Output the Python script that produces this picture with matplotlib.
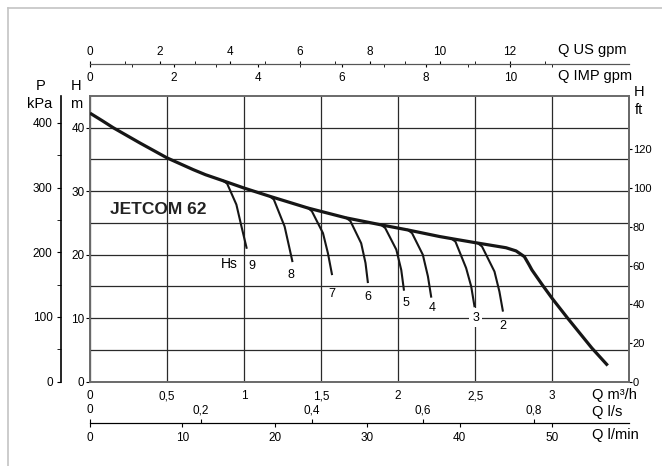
import numpy as np
import matplotlib
matplotlib.use('Agg')
import matplotlib.pyplot as plt
from matplotlib.lines import Line2D
from matplotlib.ticker import FuncFormatter

plt.rcParams['font.family'] = ['Liberation Sans', 'DejaVu Sans']

# main pump curve: Q in m3/h, H in m
curve_q = [0, 0.08, 0.151, 0.324, 0.5, 0.67, 0.75, 0.864, 1.0, 1.167, 1.415,
           1.663, 1.89, 2.063, 2.268, 2.355, 2.5, 2.7, 2.765, 2.819, 2.85,
           2.868, 2.94, 3.0, 3.10, 3.257, 3.36]
curve_h = [42.3, 41.1, 40.0, 37.6, 35.25, 33.4, 32.6, 31.65, 30.5, 29.2, 27.35,
           25.8, 24.7, 23.9, 22.87, 22.5, 21.9, 21.1, 20.6, 19.7, 18.4,
           17.6, 15.1, 13.1, 10.0, 5.3, 2.55]

# suction lift branches (Hs = 9 ... 2 m)
branch_names = ['9', '8', '7', '6', '5', '4', '3', '2']
branch_q = [[0.864, 0.89, 0.95, 0.983, 1.016],
            [1.167, 1.193, 1.263, 1.292, 1.313],
            [1.415, 1.44, 1.512, 1.544, 1.570],
            [1.663, 1.69, 1.760, 1.788, 1.803],
            [1.89, 1.916, 1.988, 2.02, 2.037],
            [2.063, 2.09, 2.16, 2.193, 2.214],
            [2.345, 2.372, 2.441, 2.474, 2.495],
            [2.517, 2.544, 2.625, 2.657, 2.679]]
branch_h = [[31.65, 31.2, 27.9, 24.45, 21.1],
            [29.2, 28.7, 24.45, 21.3, 19.0],
            [27.35, 26.85, 23.4, 20.25, 16.95],
            [25.8, 25.3, 21.8, 18.7, 15.7],
            [24.7, 24.2, 20.8, 17.6, 14.5],
            [23.9, 23.4, 20.0, 16.6, 13.4],
            [22.55, 22.05, 17.9, 15.0, 11.9],
            [21.8, 21.3, 17.35, 14.2, 11.2]]
label_q = [1.048, 1.307, 1.572, 1.804, 2.052, 2.22, 2.502, 2.679]
label_h = [18.3, 16.8, 13.8, 13.3, 12.4, 11.6, 10.1, 8.7]

W, H = 662, 466
fig = plt.figure(figsize=(W / 100, H / 100), dpi=100)


def fig_box(x0, y0, x1, y1):
    return [x0 / W, 1 - y1 / H, (x1 - x0) / W, (y1 - y0) / H]


def px(x, y):
    return x / W, 1 - y / H


def comma(v, pos):
    return ('%g' % v).replace('.', ',')


# light outer frame
fig.add_artist(Line2D([7.5 / W, 7.5 / W], [0, 1 - 8 / H], color='#c4c4c4', lw=1.2))
fig.add_artist(Line2D([7.5 / W, 1], [1 - 8 / H, 1 - 8 / H], color='#c4c4c4', lw=1.2))

ax = fig.add_axes(fig_box(90, 96, 629.3, 381.7))
ax.set_xlim(0, 3.5)
ax.set_ylim(0, 45)
for s in ax.spines.values():
    s.set_color('#6a6a6a')
    s.set_linewidth(1.4)

ax.set_xticks(np.arange(0, 3.01, 0.5))
ax.xaxis.set_major_formatter(FuncFormatter(comma))
ax.set_yticks(np.arange(0, 41, 10))
ax.set_yticks(np.arange(5, 41, 10), minor=True)
ax.tick_params(axis='x', length=0, pad=6, labelsize=8.5)
ax.tick_params(axis='y', which='major', direction='out', length=3, pad=1,
               labelsize=8.5)
ax.tick_params(axis='y', which='minor', length=0)
ax.grid(True, which='both', color='#2a2a2a', lw=0.9)
ax.set_axisbelow(True)

# curves
ax.plot(curve_q, curve_h, color='#161616', lw=2.3, solid_capstyle='butt',
        solid_joinstyle='round', zorder=5)
for bq, bh in zip(branch_q, branch_h):
    ax.plot(bq, bh, color='#161616', lw=1.5, solid_joinstyle='round', zorder=4)
for name, lq, lh in zip(branch_names, label_q, label_h):
    if name == '3':
        ax.text(lq, lh, name, ha='center', va='center', fontsize=9,
                bbox=dict(fc='white', ec='none', pad=2.5), zorder=6)
    else:
        ax.text(lq, lh, name, ha='center', va='center', fontsize=9, zorder=6)
ax.text(0.907, 18.5, 'Hs', ha='center', va='center', fontsize=10)
ax.text(0.13, 27.2, 'JETCOM 62', ha='left', va='center', fontsize=12.5,
        fontweight='bold', color='#222222')

# pressure axis (kPa)
sec_p = ax.secondary_yaxis(-29 / 539.3, functions=(lambda h: h * 9.81,
                                                   lambda p: p / 9.81))
sec_p.set_yticks(np.arange(0, 401, 100))
sec_p.set_yticks(np.arange(50, 400, 100), minor=True)
sec_p.tick_params(which='both', direction='out', length=3, pad=3, labelsize=8.5)
sec_p.spines['left'].set_linewidth(1.2)

# head in feet
sec_ft = ax.secondary_yaxis('right', functions=(lambda h: h / 0.3048,
                                                lambda f: f * 0.3048))
sec_ft.set_yticks(np.arange(0, 121, 20))
sec_ft.tick_params(direction='out', length=2, pad=0.5, labelsize=8)
sec_ft.spines['right'].set_color('#6a6a6a')
sec_ft.spines['right'].set_linewidth(1.4)

# top flow scales
top_loc = (381.7 - 64) / 285.7
sec_us = ax.secondary_xaxis(top_loc, functions=(lambda q: q * 4.4029,
                                                lambda g: g / 4.4029))
sec_us.set_xticks(np.arange(0, 13, 2))
sec_us.set_xticks(np.arange(1, 14, 2), minor=True)
sec_us.tick_params(which='both', direction='out', length=2.5, pad=2,
                   labelsize=8.5)
sec_us.spines['top'].set_color('#555555')

sec_imp = ax.secondary_xaxis(top_loc, functions=(lambda q: q * 3.6662,
                                                 lambda g: g / 3.6662))
sec_imp.set_alignment('bottom')
sec_imp.set_xticks(np.arange(0, 11, 2))
sec_imp.set_xticks(np.arange(1, 12, 2), minor=True)
sec_imp.tick_params(which='both', direction='out', length=2.5, pad=3,
                    labelsize=8.5)
sec_imp.spines['bottom'].set_color('#555555')

# bottom flow scales
bot_loc = -(423.3 - 381.7) / 285.7
sec_ls = ax.secondary_xaxis(bot_loc, functions=(lambda q: q / 3.6,
                                                lambda s: s * 3.6))
sec_ls.set_alignment('top')
sec_ls.set_xticks(np.arange(0, 0.81, 0.2))
sec_ls.xaxis.set_major_formatter(FuncFormatter(comma))
sec_ls.tick_params(direction='out', length=3, pad=2, labelsize=8.5)

sec_lmin = ax.secondary_xaxis(bot_loc, functions=(lambda q: q * 1000 / 60,
                                                  lambda m: m * 60 / 1000))
sec_lmin.set_xticks(np.arange(0, 51, 10))
sec_lmin.tick_params(direction='out', length=3, pad=3, labelsize=8.5)

# unit labels
for txt, x, y, ha in [('P', 41, 86, 'center'), ('kPa', 40, 104, 'center'),
                      ('H', 76, 86, 'center'), ('m', 76, 104, 'center'),
                      ('H', 634, 92, 'left'), ('ft', 634.5, 110, 'left'),
                      ('Q US gpm', 558, 50, 'left'),
                      ('Q IMP gpm', 558, 76, 'left'),
                      ('Q m³/h', 592, 395, 'left'),
                      ('Q l/s', 592, 412, 'left'),
                      ('Q l/min', 592, 435, 'left')]:
    fig.text(*px(x, y), txt, ha=ha, va='center', fontsize=10.5)

fig.savefig('out.png', dpi=100)
